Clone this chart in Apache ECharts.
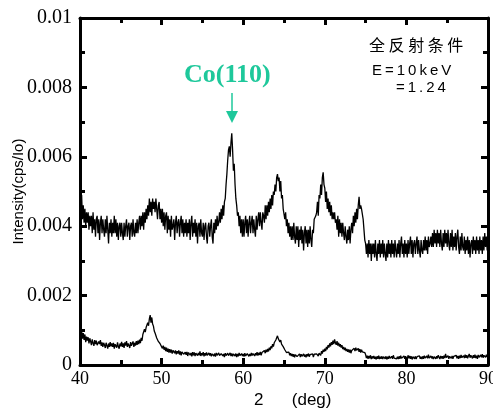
<!DOCTYPE html>
<html>
<head>
<meta charset="utf-8">
<title>XRD Co(110)</title>
<script src="https://cdn.jsdelivr.net/npm/echarts@6/dist/echarts.min.js"></script>
<style>
    html, body { margin: 0; padding: 0; background: #fff; }
    #main { width: 493px; height: 414px; }
</style>
</head>
<body>
<div id="main"></div>
<script>
// 2theta grid: 40..90 deg, step 0.1
var angleStart = 40, angleStep = 0.1;
var xTicks = [40, 50, 60, 70, 80, 90];
var yTicks = ['0', '0.002', '0.004', '0.006', '0.008', '0.01'];

// intensity in units of 1e-3 cps/Io, one row per degree
var upper = [
    5.0,4.5,4.9,4.2,4.6,4.1,4.5,4.0,4.4,4.1,
    4.4,3.9,4.3,4.0,4.3,3.8,4.4,3.9,4.2,3.7,
    4.2,4.3,3.8,4.2,3.6,4.1,4.3,3.8,4.2,3.9,
    3.7,4.2,3.8,4.3,3.9,3.5,4.1,3.8,4.2,3.7,
    4.1,3.8,4.3,3.8,4.2,3.7,4.1,3.6,4.0,4.1,
    3.7,4.1,3.8,3.6,4.1,3.7,4.0,4.2,3.7,4.0,
    4.1,3.6,4.0,4.1,3.7,4.2,3.8,3.7,4.1,3.8,
    4.2,3.8,4.1,4.3,3.9,4.3,4.0,4.4,3.9,4.4,
    4.1,4.5,4.2,4.6,4.3,4.8,4.4,4.7,4.3,4.8,
    4.5,4.7,4.4,4.8,4.5,4.2,4.6,4.7,4.2,4.5,
    4.1,4.5,4.0,4.4,3.9,4.3,4.4,3.8,4.3,3.9,
    4.2,3.7,4.3,3.9,4.0,4.2,3.6,4.1,4.3,3.8,
    4.1,4.2,3.7,4.1,4.3,3.8,4.2,3.7,4.1,3.8,
    4.2,3.7,4.1,3.8,4.2,3.6,4.1,4.3,3.7,4.1,
    3.8,4.2,3.7,4.1,3.5,4.0,4.1,3.7,4.2,3.8,
    3.7,4.1,3.6,4.0,4.1,3.7,3.5,4.0,4.1,3.7,
    4.0,4.2,3.7,3.5,4.1,3.8,4.2,3.9,4.3,4.0,
    4.1,4.4,4.1,4.5,4.2,4.6,4.3,4.7,4.8,5.2,
    5.5,5.9,6.2,6.3,6.0,6.4,6.68,6.2,5.6,5.8,
    5.2,4.8,4.6,4.3,4.4,4.0,4.3,3.8,4.2,3.7,
    4.2,3.7,4.1,4.3,3.8,4.2,3.7,4.1,4.3,3.8,
    4.1,4.3,3.8,4.2,3.9,3.7,4.3,3.9,4.2,4.4,
    4.0,4.4,4.1,3.9,4.4,4.3,4.1,4.6,4.2,4.6,
    4.3,4.7,4.4,4.8,4.5,4.9,4.6,5.0,4.9,5.2,
    5.0,5.4,5.5,5.3,5.4,5.0,5.3,4.8,4.9,4.5,
    4.5,4.2,4.4,4.0,4.2,3.8,4.1,3.7,4.0,3.6,
    4.0,3.6,4.1,3.7,3.5,4.0,3.6,4.0,3.4,3.9,
    3.6,4.0,3.5,3.9,3.3,3.8,4.0,3.5,3.9,3.4,
    3.9,3.5,4.0,3.6,3.4,3.9,3.8,4.2,4.2,4.3,
    4.4,4.7,4.3,4.9,4.8,5.2,4.9,5.4,5.55,5.2,
    5.1,4.7,5.0,4.5,4.8,4.4,4.7,4.3,4.6,4.2,
    4.4,4.2,4.4,4.1,4.2,3.9,4.3,3.7,4.2,3.8,
    4.1,3.7,4.1,3.8,3.6,4.0,3.7,3.5,3.9,3.6,
    4.0,3.5,3.9,4.1,3.8,4.3,4.0,4.4,4.1,4.5,
    4.2,4.6,4.85,4.5,4.6,4.5,4.5,4.2,3.9,3.6,
    3.5,3.2,3.5,3.1,3.6,3.2,3.5,3.0,3.5,3.2,
    3.5,3.1,3.6,3.2,3.0,3.5,3.2,3.6,3.1,3.5,
    3.2,3.6,3.1,3.5,3.2,3.0,3.5,3.1,3.6,3.2,
    3.5,3.1,3.6,3.2,3.5,3.1,3.6,3.3,3.1,3.5,
    3.2,3.6,3.1,3.5,3.7,3.2,3.5,3.1,3.6,3.2,
    3.5,3.1,3.6,3.2,3.5,3.7,3.2,3.6,3.1,3.5,
    3.6,3.2,3.5,3.7,3.2,3.6,3.3,3.1,3.6,3.3,
    3.2,3.6,3.3,3.7,3.3,3.6,3.2,3.7,3.4,3.5,
    3.7,3.4,3.8,3.4,3.9,3.5,3.8,3.4,3.9,3.5,
    3.8,3.4,3.9,3.5,3.3,3.8,3.4,3.9,3.5,3.8,
    3.4,3.9,3.5,3.3,3.8,3.4,3.9,3.3,3.7,3.4,
    3.8,3.3,3.7,3.9,3.4,3.2,3.7,3.3,3.8,3.4,
    3.3,3.7,3.2,3.6,3.3,3.7,3.2,3.6,3.1,3.5,
    3.6,3.2,3.7,3.3,3.6,3.2,3.7,3.3,3.6,3.2,
    3.7,3.3,3.6,3.2,3.7,3.3,3.8,3.4,3.7,3.3,
    3.5
];

var lower = [
    1.0,0.82,0.97,0.76,0.92,0.72,0.88,0.66,0.82,0.7,
    0.8,0.62,0.77,0.68,0.57,0.74,0.63,0.55,0.72,0.6,
    0.7,0.57,0.52,0.68,0.6,0.72,0.55,0.65,0.52,0.64,
    0.58,0.49,0.64,0.56,0.47,0.62,0.52,0.66,0.54,0.62,
    0.52,0.64,0.47,0.6,0.62,0.5,0.65,0.53,0.47,0.62,
    0.54,0.67,0.52,0.62,0.49,0.65,0.56,0.69,0.52,0.62,
    0.56,0.49,0.66,0.55,0.62,0.68,0.52,0.64,0.56,0.69,
    0.58,0.7,0.6,0.73,0.63,0.78,0.7,0.88,0.9,1.03,
    0.95,1.08,1.1,1.22,1.13,1.33,1.44,1.22,1.37,1.18,
    1.12,0.98,0.92,0.94,0.78,0.74,0.68,0.64,0.62,0.57,
    0.6,0.48,0.56,0.44,0.52,0.4,0.5,0.38,0.47,0.36,
    0.46,0.36,0.44,0.33,0.42,0.46,0.34,0.42,0.31,0.4,
    0.33,0.42,0.3,0.39,0.28,0.38,0.42,0.31,0.27,0.37,
    0.29,0.38,0.26,0.36,0.4,0.28,0.35,0.25,0.37,0.28,
    0.36,0.26,0.34,0.38,0.27,0.35,0.28,0.39,0.26,0.34,
    0.28,0.37,0.25,0.34,0.27,0.36,0.28,0.24,0.35,0.27,
    0.34,0.25,0.32,0.37,0.26,0.33,0.24,0.35,0.28,0.26,
    0.35,0.27,0.24,0.33,0.36,0.26,0.32,0.23,0.34,0.27,
    0.25,0.34,0.27,0.24,0.35,0.26,0.33,0.25,0.32,0.37,
    0.26,0.33,0.23,0.32,0.25,0.35,0.27,0.24,0.33,0.26,
    0.32,0.24,0.34,0.26,0.23,0.33,0.36,0.25,0.32,0.26,
    0.35,0.27,0.33,0.38,0.26,0.34,0.28,0.37,0.27,0.35,
    0.29,0.38,0.28,0.36,0.4,0.31,0.42,0.34,0.44,0.37,
    0.46,0.39,0.5,0.43,0.54,0.48,0.6,0.53,0.64,0.64,
    0.72,0.74,0.84,0.76,0.74,0.66,0.72,0.6,0.6,0.53,
    0.52,0.44,0.44,0.36,0.38,0.31,0.37,0.28,0.34,0.26,
    0.32,0.24,0.31,0.22,0.3,0.33,0.24,0.21,0.29,0.32,
    0.23,0.31,0.25,0.21,0.32,0.24,0.3,0.22,0.31,0.25,
    0.33,0.24,0.3,0.35,0.25,0.32,0.23,0.31,0.34,0.26,
    0.32,0.36,0.26,0.34,0.38,0.28,0.4,0.33,0.44,0.38,
    0.47,0.4,0.52,0.45,0.57,0.5,0.62,0.54,0.66,0.58,
    0.7,0.6,0.74,0.64,0.58,0.69,0.56,0.64,0.53,0.6,
    0.5,0.57,0.46,0.52,0.43,0.5,0.4,0.46,0.38,0.45,
    0.36,0.44,0.34,0.42,0.46,0.38,0.48,0.4,0.5,0.42,
    0.4,0.48,0.38,0.46,0.36,0.44,0.38,0.34,0.42,0.36,
    0.3,0.2,0.27,0.18,0.26,0.19,0.28,0.17,0.25,0.19,
    0.26,0.18,0.24,0.16,0.25,0.18,0.27,0.17,0.24,0.18,
    0.25,0.17,0.24,0.27,0.18,0.25,0.16,0.24,0.18,0.26,
    0.19,0.16,0.25,0.18,0.28,0.2,0.17,0.25,0.18,0.24,
    0.17,0.25,0.18,0.27,0.19,0.16,0.24,0.26,0.18,0.25,
    0.24,0.17,0.28,0.19,0.26,0.18,0.25,0.16,0.24,0.27,
    0.18,0.25,0.17,0.24,0.28,0.19,0.26,0.18,0.24,0.17,
    0.25,0.18,0.27,0.2,0.17,0.26,0.19,0.3,0.2,0.18,
    0.26,0.19,0.25,0.17,0.24,0.27,0.18,0.25,0.19,0.28,
    0.24,0.17,0.26,0.19,0.25,0.18,0.27,0.2,0.32,0.21,
    0.19,0.27,0.18,0.25,0.28,0.19,0.26,0.18,0.25,0.27,
    0.2,0.28,0.19,0.26,0.18,0.27,0.2,0.29,0.21,0.19,
    0.27,0.2,0.3,0.21,0.28,0.19,0.26,0.32,0.21,0.28,
    0.26,0.19,0.28,0.21,0.3,0.2,0.27,0.18,0.29,0.22,
    0.2,0.29,0.22,0.31,0.21,0.28,0.32,0.22,0.3,0.23,
    0.3
];

function toPairs(arr) {
    var out = [];
    for (var i = 0; i < arr.length; i++) {
        out.push([+(angleStart + i * angleStep).toFixed(1), arr[i]]);
    }
    return out;
}

var serif = '"Liberation Serif", "DejaVu Serif", serif';
var sans = '"Liberation Sans", Arial, sans-serif';
var green = '#1ec89b';

var axisLine = { show: true, onZero: false, lineStyle: { color: '#000', width: 3 } };
var majorTick = { show: true, inside: true, length: 7, lineStyle: { color: '#000', width: 3 } };
var minorTick = { show: true, splitNumber: 2, length: 5, lineStyle: { color: '#000', width: 3 } };

var myChart = echarts.init(document.getElementById('main'));
var option = {
    animation: false,
    backgroundColor: '#fff',
    grid: { left: 80, right: 5, top: 18, bottom: 49, outerBoundsMode: 'none', containLabel: false },
    xAxis: [
        {
            type: 'value', min: xTicks[0], max: xTicks[xTicks.length - 1], interval: 10,
            position: 'bottom',
            axisLine: axisLine, axisTick: majorTick, minorTick: minorTick,
            splitLine: { show: false },
            axisLabel: { color: '#000', fontFamily: serif, fontSize: 18, margin: 5 }
        },
        {
            type: 'value', min: xTicks[0], max: xTicks[xTicks.length - 1], interval: 10,
            position: 'top',
            axisLine: axisLine, axisTick: majorTick, minorTick: minorTick,
            splitLine: { show: false }, axisLabel: { show: false }
        }
    ],
    yAxis: [
        {
            type: 'value', min: 0, max: 10, interval: 2,
            position: 'left',
            axisLine: axisLine, axisTick: majorTick, minorTick: minorTick,
            splitLine: { show: false },
            axisLabel: {
                color: '#000', fontFamily: serif, fontSize: 20, margin: 8,
                formatter: function (v) { return yTicks[Math.round(v / 2)]; }
            },
            name: 'Intensity(cps/Io)', nameLocation: 'middle', nameGap: 54,
            nameMoveOverlap: false,
            nameTextStyle: { color: '#000', fontFamily: sans, fontSize: 15 }
        },
        {
            type: 'value', min: 0, max: 10, interval: 2,
            position: 'right',
            axisLine: axisLine, axisTick: majorTick, minorTick: minorTick,
            splitLine: { show: false }, axisLabel: { show: false }
        }
    ],
    series: [
        {
            type: 'line', name: 'upper', data: toPairs(upper),
            symbol: 'none', lineStyle: { color: '#000', width: 1.3 }
        },
        {
            type: 'line', name: 'lower', data: toPairs(lower),
            symbol: 'none', lineStyle: { color: '#000', width: 1.3 }
        }
    ],
    graphic: [
        {
            type: 'text', left: 184, top: 62,
            style: { text: 'Co(110)', fill: green, font: 'bold 26px ' + serif }
        },
        {
            type: 'line', shape: { x1: 232, y1: 93, x2: 232, y2: 112 },
            style: { stroke: green, lineWidth: 1.5 }
        },
        {
            type: 'polygon', shape: { points: [[226, 111], [238, 111], [232, 123]] },
            style: { fill: green }
        },
        {
            type: 'text', left: 369, top: 37,
            style: { text: '全 反 射 条 件', fill: '#000', font: '16px "Noto Sans CJK SC"' }
        },
        {
            type: 'text', left: 372, top: 63,
            style: { text: 'E\u2009=\u20091\u20090\u2009k\u2009e\u2009V', fill: '#000', font: '15px ' + sans }
        },
        {
            type: 'text', left: 396, top: 80,
            style: { text: '=\u20091\u2009.\u20092\u20094', fill: '#000', font: '15px ' + sans }
        },
        {
            type: 'text', left: 254, top: 392,
            style: { text: '2      (deg)', fill: '#000', font: '17px ' + sans }
        }
    ]
};
myChart.setOption(option);
</script>
</body>
</html>
